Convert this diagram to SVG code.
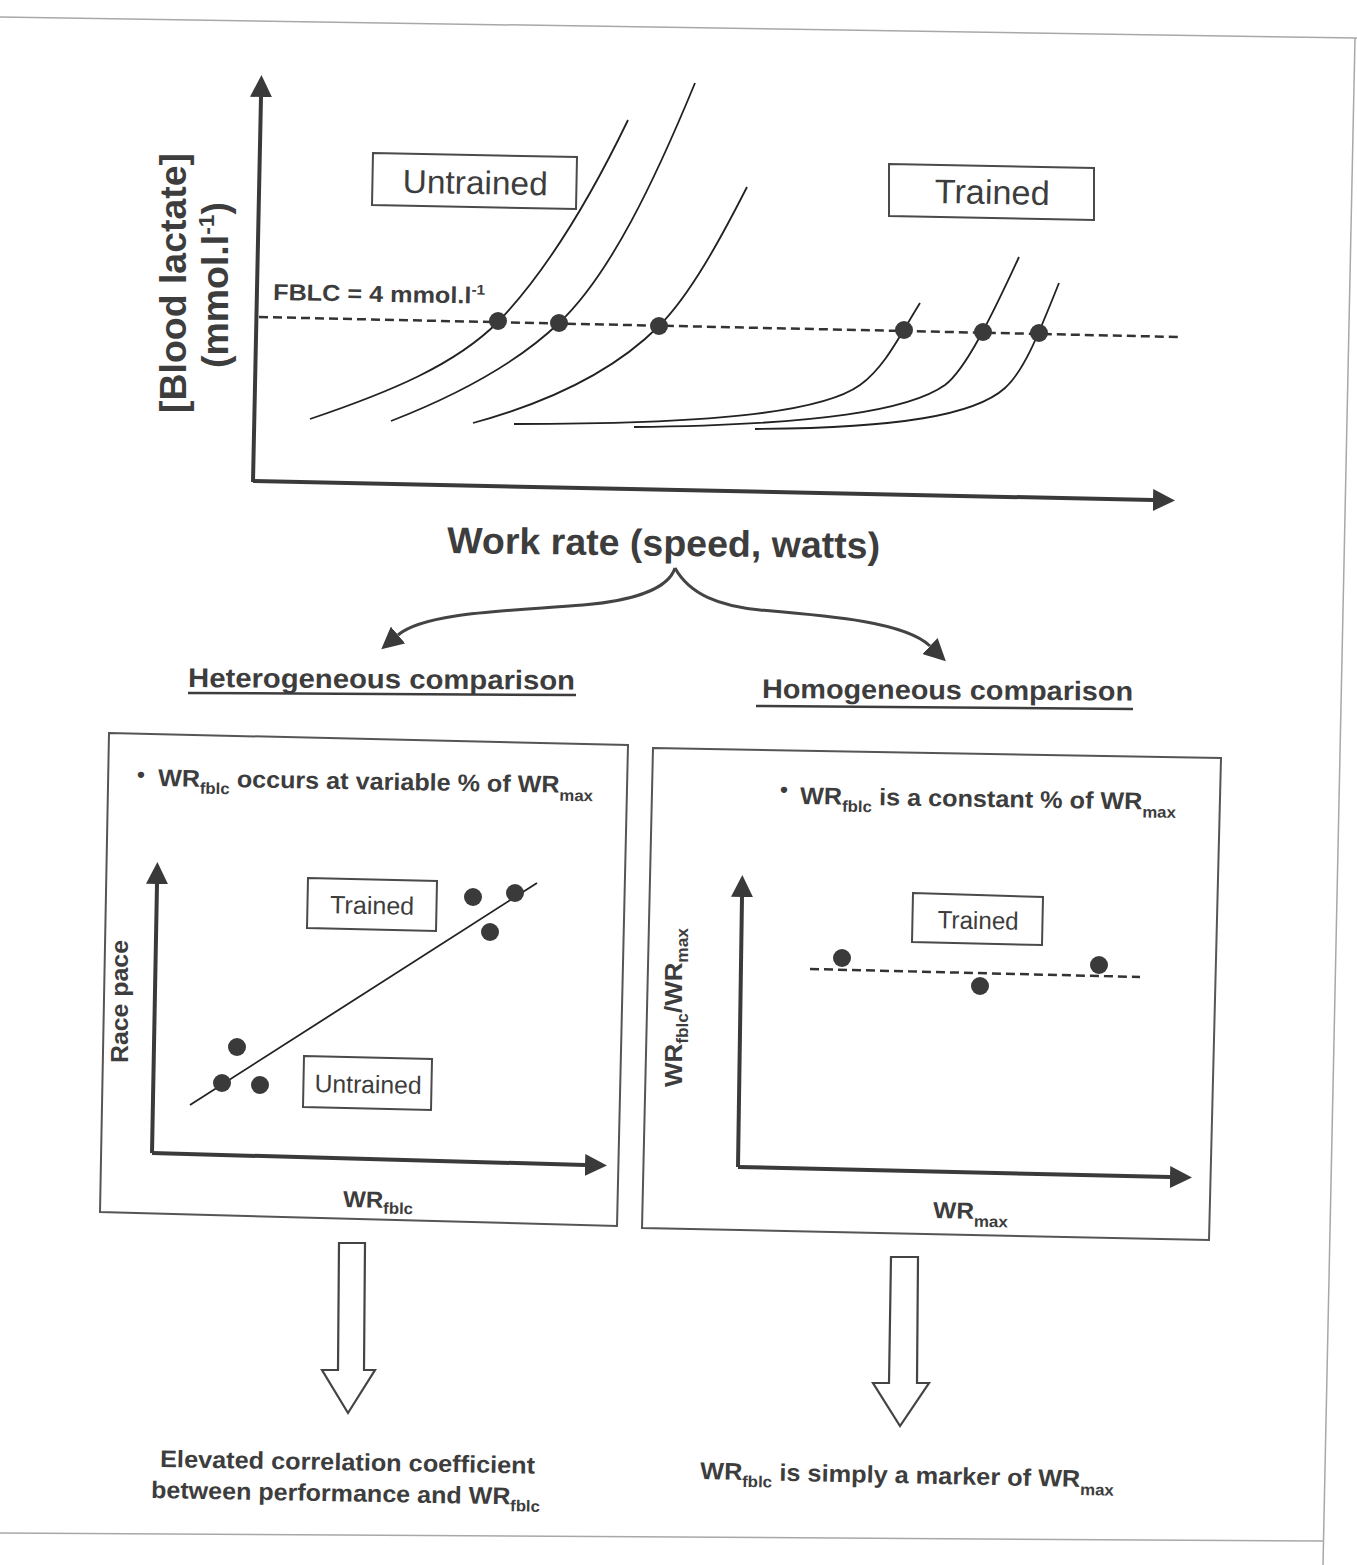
<svg xmlns="http://www.w3.org/2000/svg" width="1357" height="1565" viewBox="0 0 1357 1565">
<defs>
<style>
.t{font-family:"Liberation Sans",Arial,Helvetica,sans-serif;fill:#3d3d3d}
.b{font-weight:bold}
.sub{font-size:16px}
.ax{stroke:#3a3a3a;stroke-width:4;fill:none;marker-end:url(#ah)}
.cv{stroke:#222;stroke-width:1.8;fill:none}
.dash{stroke:#333;stroke-width:2.5;stroke-dasharray:9 5;fill:none}
.dot{fill:#3a3a3a}
.box{fill:none;stroke:#4a4a4a;stroke-width:2}
.frame{fill:none;stroke:#555;stroke-width:2}
.hollow{fill:#fff;stroke:#444;stroke-width:2.2}
.brace{stroke:#444;stroke-width:3;fill:none;marker-end:url(#ah)}
.edge{stroke:#a8a8a8;stroke-width:1.5;fill:none}
.ul{stroke:#3d3d3d;stroke-width:2.5}
</style>
<marker id="ah" markerUnits="userSpaceOnUse" viewBox="0 0 22 22" markerWidth="22" markerHeight="22" refX="0" refY="11" orient="auto"><path d="M0,0 L22,11 L0,22 z" fill="#3a3a3a"/></marker>
</defs>
<rect width="1357" height="1565" fill="#fff"/>

<g id="page-edges">
<path class="edge" d="M0,17 L1357,38"/>
<path class="edge" d="M1355,38 L1323,1565"/>
<path class="edge" d="M0,1533 L1323,1541"/>
</g>

<g id="top-chart">
<path class="ax" d="M253,482 L261,97"/>
<path class="ax" d="M253,481 L1153,500"/>
<path class="cv" d="M310,419 C390,392 455,365 498,322 C542,276 587,205 628,120"/>
<path class="cv" d="M391,421 C450,398 515,365 559,323 C610,275 655,180 695,83"/>
<path class="cv" d="M473,423 C550,402 615,370 659,326 C690,295 720,240 747,187"/>
<path class="cv" d="M514,424 C700,424 820,414 860,385 C885,367 900,335 920,303"/>
<path class="cv" d="M634,427 C820,425 910,410 945,385 C965,370 990,320 1019,257"/>
<path class="cv" d="M755,429 C900,428 975,415 1005,388 C1025,370 1040,330 1059,283"/>
<path class="dash" d="M259,317 L1180,337"/>
<circle class="dot" cx="498" cy="321" r="9"/>
<circle class="dot" cx="559" cy="323" r="9"/>
<circle class="dot" cx="659" cy="326" r="9"/>
<circle class="dot" cx="904" cy="330" r="9"/>
<circle class="dot" cx="983" cy="332" r="9"/>
<circle class="dot" cx="1039" cy="333" r="9"/>
<text class="t b" transform="translate(186,283) rotate(-90)" text-anchor="middle" font-size="36" textLength="260" lengthAdjust="spacingAndGlyphs">[Blood lactate]</text>
<text class="t b" transform="translate(228,285) rotate(-90)" text-anchor="middle" font-size="36" textLength="166" lengthAdjust="spacingAndGlyphs">(mmol.l<tspan font-size="22" dy="-14">-1</tspan><tspan dy="14">)</tspan></text>
<text class="t b" x="273" y="300" font-size="23" textLength="212" lengthAdjust="spacingAndGlyphs" transform="rotate(1 273 300)">FBLC = 4 mmol.l<tspan font-size="14" dy="-9">-1</tspan></text>
</g>

<g id="label-untrained">
<polygon class="box" points="373,153 577,157 576,209 372,205"/>
<text class="t" x="475" y="194" text-anchor="middle" font-size="33" textLength="145" lengthAdjust="spacingAndGlyphs" transform="rotate(1 475 194)">Untrained</text>
</g>

<g id="label-trained">
<polygon class="box" points="889,164 1094,168 1094,220 889,216"/>
<text class="t" x="992" y="204" text-anchor="middle" font-size="34" textLength="115" lengthAdjust="spacingAndGlyphs" transform="rotate(1 992 204)">Trained</text>
</g>

<g id="xlabel-work-rate">
<text class="t b" x="447" y="553" font-size="37" textLength="433" lengthAdjust="spacingAndGlyphs" transform="rotate(0.7 447 553)">Work rate (speed, watts)</text>
</g>

<g id="heading-heterogeneous">
<text class="t b" x="188" y="687" font-size="27" textLength="387" lengthAdjust="spacingAndGlyphs" transform="rotate(0.4 188 687)">Heterogeneous comparison</text>
<line class="ul" x1="188" y1="693" x2="576" y2="695"/>
</g>

<g id="heading-homogeneous">
<text class="t b" x="762" y="698" font-size="27" textLength="371" lengthAdjust="spacingAndGlyphs" transform="rotate(0.4 762 698)">Homogeneous comparison</text>
<line class="ul" x1="756" y1="706" x2="1133" y2="709"/>
</g>

<g id="panel-left">
<polygon class="frame" points="109,733 628,745 617,1226 100,1212"/>
<text class="t b" x="137" y="782" font-size="22" transform="rotate(1 137 782)">•</text>
<text class="t b" x="158" y="786" font-size="24" textLength="435" lengthAdjust="spacingAndGlyphs" transform="rotate(0.95 158 786)">WR<tspan class="sub" dy="7">fblc</tspan><tspan dy="-7"> occurs at variable % of WR</tspan><tspan class="sub" dy="8">max</tspan></text>
<path class="ax" d="M152,1153 L157,884"/>
<path class="ax" d="M152,1153 L585,1165"/>
<line class="cv" x1="190" y1="1105" x2="537" y2="883"/>
<circle class="dot" cx="473" cy="897" r="9"/>
<circle class="dot" cx="515" cy="893" r="9"/>
<circle class="dot" cx="490" cy="932" r="9"/>
<circle class="dot" cx="237" cy="1047" r="9"/>
<circle class="dot" cx="222" cy="1083" r="9"/>
<circle class="dot" cx="260" cy="1085" r="9"/>
<polygon class="box" points="308,878 437,881 436,931 307,928"/>
<text class="t" x="372" y="914" text-anchor="middle" font-size="25" textLength="84" lengthAdjust="spacingAndGlyphs" transform="rotate(1 372 914)">Trained</text>
<polygon class="box" points="304,1056 432,1059 431,1110 303,1107"/>
<text class="t" x="368" y="1093" text-anchor="middle" font-size="25" textLength="107" lengthAdjust="spacingAndGlyphs" transform="rotate(1 368 1093)">Untrained</text>
<text class="t b" transform="translate(128,1063) rotate(-90)" font-size="23" textLength="123" lengthAdjust="spacingAndGlyphs">Race pace</text>
<text class="t b" x="343" y="1207" font-size="23" textLength="70" lengthAdjust="spacingAndGlyphs" transform="rotate(1 343 1207)">WR<tspan class="sub" dy="6">fblc</tspan></text>
</g>

<g id="panel-right">
<polygon class="frame" points="653,748 1221,758 1209,1240 642,1228"/>
<text class="t b" x="780" y="797" font-size="22" transform="rotate(1 780 797)">•</text>
<text class="t b" x="800" y="804" font-size="24" textLength="376" lengthAdjust="spacingAndGlyphs" transform="rotate(0.9 800 804)">WR<tspan class="sub" dy="7">fblc</tspan><tspan dy="-7"> is a constant % of WR</tspan><tspan class="sub" dy="8">max</tspan></text>
<path class="ax" d="M738,1167 L742,897"/>
<path class="ax" d="M738,1167 L1170,1177"/>
<path class="dash" d="M810,969 L1140,977"/>
<circle class="dot" cx="842" cy="958" r="9"/>
<circle class="dot" cx="980" cy="986" r="9"/>
<circle class="dot" cx="1099" cy="965" r="9"/>
<polygon class="box" points="913,893 1043,897 1042,945 912,942"/>
<text class="t" x="978" y="929" text-anchor="middle" font-size="25" textLength="81" lengthAdjust="spacingAndGlyphs" transform="rotate(1 978 929)">Trained</text>
<text class="t b" transform="translate(682,1087) rotate(-90)" font-size="24" textLength="159" lengthAdjust="spacingAndGlyphs">WR<tspan class="sub" dy="6">fblc</tspan><tspan dy="-6">/WR</tspan><tspan class="sub" dy="6">max</tspan></text>
<text class="t b" x="933" y="1218" font-size="23" textLength="75" lengthAdjust="spacingAndGlyphs" transform="rotate(1 933 1218)">WR<tspan class="sub" dy="8">max</tspan></text>
</g>

<g id="connectors">
<path class="brace" d="M675,568 C668,590 630,601 583,605 C510,611 425,612 398,635"/>
<path class="brace" d="M675,568 C690,595 720,606 760,610 C830,616 905,622 930,646"/>
<polygon class="hollow" points="339,1243 365,1243 364,1370 375,1370 348,1413 322,1370 338,1370"/>
<polygon class="hollow" points="891,1257 918,1257 917,1383 929,1383 900,1426 873,1383 889,1383"/>
</g>

<g id="conclusion-left">
<text class="t b" x="160" y="1467" font-size="24" textLength="375" lengthAdjust="spacingAndGlyphs" transform="rotate(1 160 1467)">Elevated correlation coefficient</text>
<text class="t b" x="151" y="1498" font-size="24" textLength="389" lengthAdjust="spacingAndGlyphs" transform="rotate(1 151 1498)">between performance and WR<tspan class="sub" dy="7">fblc</tspan></text>
</g>

<g id="conclusion-right">
<text class="t b" x="700" y="1479" font-size="24" textLength="414" lengthAdjust="spacingAndGlyphs" transform="rotate(1.2 700 1479)">WR<tspan class="sub" dy="7">fblc</tspan><tspan dy="-7"> is simply a marker of WR</tspan><tspan class="sub" dy="8">max</tspan></text>
</g>
</svg>
